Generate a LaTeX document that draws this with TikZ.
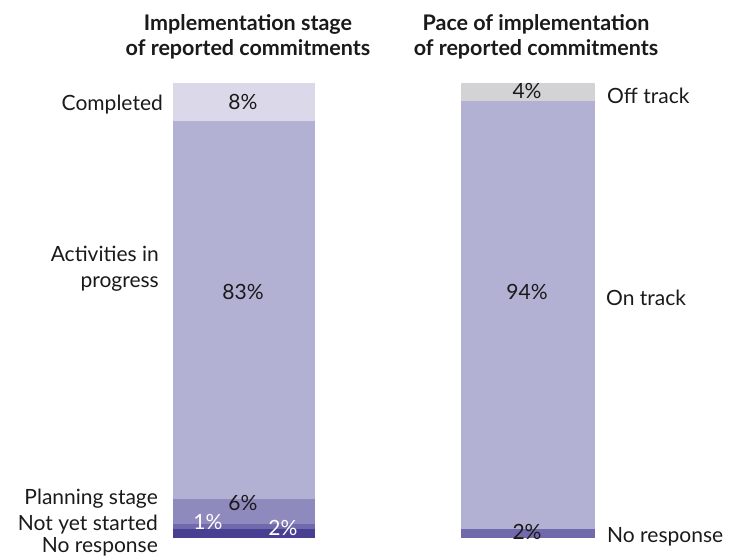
\documentclass[tikz,border=0pt]{standalone}
\usepackage{fontspec}
\setmainfont{Lato}

\definecolor{completed}{HTML}{DBD8EA}
\definecolor{progress}{HTML}{B2B1D3}
\definecolor{planning}{HTML}{8E8ABE}
\definecolor{notstarted}{HTML}{7069AC}
\definecolor{noresp}{HTML}{483F92}
\definecolor{offtrack}{HTML}{D3D3D5}
\definecolor{txt}{HTML}{1A1A1A}

\begin{document}
\begin{tikzpicture}[x=1pt, y=-1pt,
    every node/.style={inner sep=0pt, text=txt, font=\fontsize{21}{26}\selectfont},
    title/.style={font=\bfseries\fontsize{21.5}{25}\selectfont, align=center, anchor=base},
    catL/.style={anchor=base east, align=right},
    catR/.style={anchor=base west},
    pct/.style={anchor=base}]

    % Frame
    \useasboundingbox (0,0) rectangle (744,555);

    % Titles
    \node[title] (tstage) at (248,55) {Implementation stage\\of reported commitments};
    \node[title] (tpace) at (536,55) {Pace of implementation\\of reported commitments};

    % Left bar: implementation stage
    \fill[completed] (173,83) rectangle (315,121);
    \fill[progress] (173,121) rectangle (315,499);
    \fill[planning] (173,499) rectangle (315,524);
    \fill[notstarted] (173,524) rectangle (315,529);
    \fill[noresp] (173,529) rectangle (315,537.5);

    \node[pct] (p8) at (243,109) {8\%};
    \node[pct] (p83) at (243,299) {83\%};
    \node[pct] (p6) at (243,510) {6\%};
    \node[pct, text=white] (p1) at (208,529) {1\%};
    \node[pct, text=white] (p2) at (283,535) {2\%};

    \node[catL] (lcompleted) at (163,110) {Completed};
    \node[catL] (lprogress) at (159,287) {Activities in\\progress};
    \node[catL] (lplanning) at (158,504) {Planning stage};
    \node[catL] (lnotstarted) at (158,530) {Not yet started};
    \node[catL] (lnoresp) at (158,552) {No response};

    % Right bar: pace of implementation
    \fill[offtrack] (461,83) rectangle (595,101);
    \fill[progress] (461,101) rectangle (595,529);
    \fill[notstarted] (461,529) rectangle (595,537.5);

    \node[pct] (p4) at (527,98) {4\%};
    \node[pct] (p94) at (527,299) {94\%};
    \node[pct] (p2r) at (527,539) {2\%};

    \node[catR] (loff) at (607,103) {Off track};
    \node[catR] (lon) at (606,305) {On track};
    \node[catR] (lnorespr) at (607,542) {No response};
\end{tikzpicture}
\end{document}
